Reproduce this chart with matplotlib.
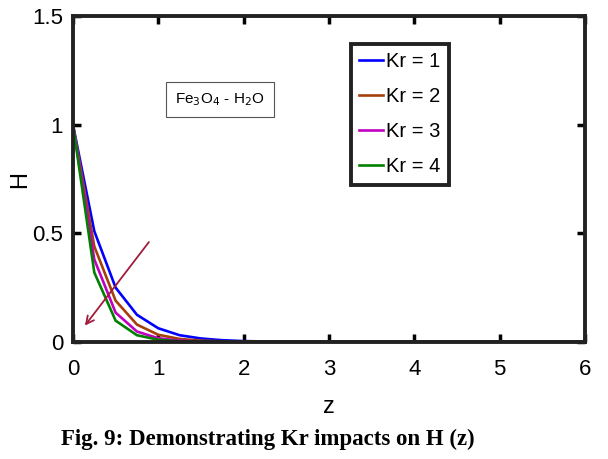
import matplotlib.pyplot as plt

plt.rcParams['font.family'] = ['Liberation Sans', 'DejaVu Sans']

# H(z) for several Kr values
z = [0, 0.25, 0.5, 0.75, 1, 1.25, 1.5, 1.75, 2, 2.25, 2.5, 2.75, 3,
     3.25, 3.5, 3.75, 4, 4.25, 4.5, 4.75, 5, 5.25, 5.5, 5.75, 6]
h_kr1 = [1, 0.51, 0.25, 0.125, 0.063, 0.031, 0.016, 0.008, 0.004, 0.002, 0.001, 0, 0,
         0, 0, 0, 0, 0, 0, 0, 0, 0, 0, 0, 0]
h_kr2 = [1, 0.44, 0.19, 0.08, 0.033, 0.014, 0.006, 0.003, 0.001, 0, 0, 0, 0,
         0, 0, 0, 0, 0, 0, 0, 0, 0, 0, 0, 0]
h_kr3 = [1, 0.38, 0.135, 0.048, 0.017, 0.006, 0.002, 0.001, 0, 0, 0, 0, 0,
         0, 0, 0, 0, 0, 0, 0, 0, 0, 0, 0, 0]
h_kr4 = [1, 0.32, 0.098, 0.031, 0.01, 0.003, 0.001, 0, 0, 0, 0, 0, 0,
         0, 0, 0, 0, 0, 0, 0, 0, 0, 0, 0, 0]

labels = ['Kr = 1', 'Kr = 2', 'Kr = 3', 'Kr = 4']
colors = ['#0000ff', '#a3400c', '#c000c0', '#008000']

fig = plt.figure(figsize=(6.08, 4.59), dpi=100)
ax = fig.add_axes([0.12, 0.255, 0.842, 0.71])

for h, lab, c in zip([h_kr1, h_kr2, h_kr3, h_kr4], labels, colors):
    ax.plot(z, h, color=c, lw=1.9, label=lab)

ax.set_xlim(0, 6)
ax.set_ylim(0, 1.5)
ax.set_xticks([0, 1, 2, 3, 4, 5, 6])
ax.set_yticks([0, 0.5, 1, 1.5])
ax.set_yticklabels(['0', '0.5', '1', '1.5'])
ax.tick_params(direction='in', length=6, width=2.5, top=True, right=True,
               labelsize=16)
ax.tick_params(axis='x', pad=12)
ax.tick_params(axis='y', pad=7)
for s in ax.spines.values():
    s.set_linewidth(2.8)
    s.set_color('#222222')

ax.set_xlabel('z', fontsize=17, labelpad=12)
ax.set_ylabel('H', fontsize=17, labelpad=1)

# arrow showing increasing Kr
ax.annotate('', xy=(0.12, 0.065), xytext=(0.91, 0.47),
            arrowprops=dict(arrowstyle='->', color='#a01c3c', lw=1.3,
                            mutation_scale=14))

ax.text(1.2, 1.115, r'Fe$_3$O$_4$ - H$_2$O', fontsize=11, va='center',
        bbox=dict(boxstyle='square,pad=0.6', fc='white', ec='#555555', lw=0.8))

leg = ax.legend(loc='upper left', bbox_to_anchor=(0.543, 0.914), fontsize=14.5,
                handlelength=1.2, handletextpad=0.15, labelspacing=0.8,
                borderpad=0.4, fancybox=False, framealpha=1, edgecolor='#222222',
                borderaxespad=0)
leg.get_frame().set_linewidth(2.8)

fig.text(0.44, 0.03, 'Fig. 9: Demonstrating Kr impacts on H (z)', ha='center',
         fontsize=16.5, fontweight='bold', family='Liberation Serif')

fig.savefig('out.png', dpi=100)
